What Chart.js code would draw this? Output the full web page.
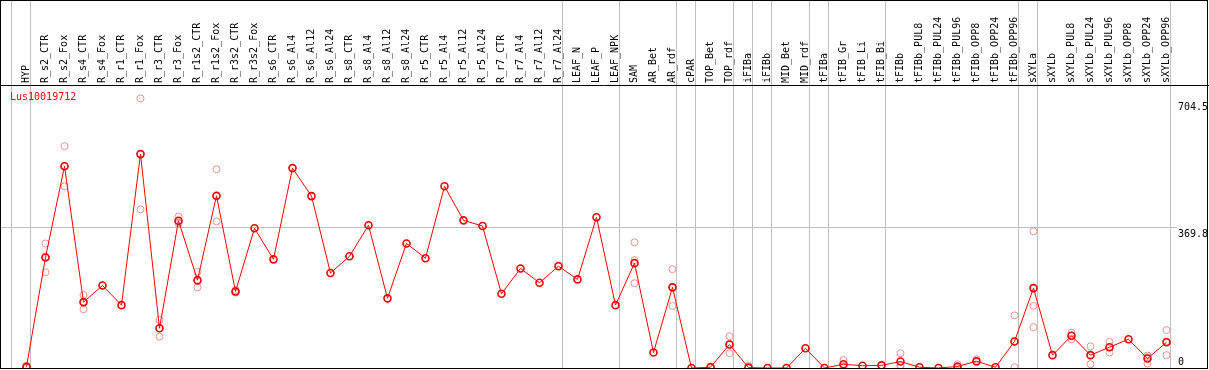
<!DOCTYPE html>
<html><head><meta charset="utf-8">
<script src="https://cdn.jsdelivr.net/npm/chart.js@4.4.0/dist/chart.umd.min.js"></script>
<style>html,body{margin:0;padding:0;background:#fff;overflow:hidden}</style>
</head><body>
<canvas id="c" width="1209" height="370"></canvas>
<script>
const categories = ['HYP','R_s2_CTR','R_s2_Fox','R_s4_CTR','R_s4_Fox','R_r1_CTR','R_r1_Fox','R_r3_CTR','R_r3_Fox','R_r1s2_CTR','R_r1s2_Fox','R_r3s2_CTR','R_r3s2_Fox','R_s6_CTR','R_s6_Al4','R_s6_Al12','R_s6_Al24','R_s8_CTR','R_s8_Al4','R_s8_Al12','R_s8_Al24','R_r5_CTR','R_r5_Al4','R_r5_Al12','R_r5_Al24','R_r7_CTR','R_r7_Al4','R_r7_Al12','R_r7_Al24','LEAF_N','LEAF_P','LEAF_NPK','SAM','AR_Bet','AR_rdf','cPAR','TOP_Bet','TOP_rdf','iFIBa','iFIBb','MID_Bet','MID_rdf','tFIBa','tFIB_Gr','tFIB_Li','tFIB_Bi','tFIBb','tFIBb_PUL8','tFIBb_PUL24','tFIBb_PUL96','tFIBb_OPP8','tFIBb_OPP24','tFIBb_OPP96','sXYLa','sXYLb','sXYLb_PUL8','sXYLb_PUL24','sXYLb_PUL96','sXYLb_OPP8','sXYLb_OPP24','sXYLb_OPP96'];
const meanValues = [3,292,533,174,218,166,565,105,389,232,455,202,369,287,528,454,251,295,377,184,329,290,480,390,375,196,263,225,269,234,398,166,277,41,213,0,2,62,1,0,0,52,0,10,6,7,17,2,0,4,18,2,70,211,34,85,34,55,76,25,68];
const rep1 = [6,329,586,193,null,null,712,127,400,254,525,206,null,null,null,null,null,null,null,null,null,null,null,null,null,null,null,null,null,null,null,null,332,null,261,null,4,84,5,null,null,null,null,21,null,null,39,null,null,10,23,null,139,361,null,93,57,69,null,33,100];
const rep2 = [1,253,480,155,null,null,419,83,382,213,387,199,null,null,null,null,null,null,null,null,null,null,null,null,null,null,null,null,null,null,null,null,285,null,164,null,0,39,0,null,null,null,null,4,null,null,5,null,null,0,16,null,2,164,null,76,10,41,null,12,34];
const rep3 = [2,294,533,174,null,null,565,105,385,229,453,201,null,null,null,null,null,null,null,null,null,null,null,null,null,null,null,null,null,null,null,null,224,null,214,null,2,63,0,null,null,null,null,5,null,null,7,null,null,2,16,null,70,108,null,85,34,55,null,29,70];
const yTicks = [0, 369.8, 704.5];
const groupEnds = [-1, 0, 28, 31, 34, 35, 37, 38, 39, 41, 42, 45, 52, 53, 60];
const geneName = 'Lus10019712';

const FONT = "'DejaVu Sans Mono', monospace";
const repPoints = [];
[rep1, rep2, rep3].forEach(r => r.forEach((v, i) => { if (v !== null) repPoints.push({x: i, y: v}); }));
const meanPoints = meanValues.map((v, i) => ({x: i, y: v}));

const framePlugin = {
  id: 'frame',
  beforeDatasetsDraw(chart) {
    const ctx = chart.ctx, xs = chart.scales.x, a = chart.chartArea;
    ctx.save();
    ctx.strokeStyle = '#c0c0c0';
    ctx.lineWidth = 1;
    groupEnds.forEach(b => {
      const px = Math.round(xs.getPixelForValue(b + 0.2)) + 0.5;
      ctx.beginPath(); ctx.moveTo(px, 0); ctx.lineTo(px, a.bottom); ctx.stroke();
    });
    ctx.restore();
  },
  afterDraw(chart) {
    const ctx = chart.ctx, a = chart.chartArea;
    ctx.save();
    ctx.strokeStyle = '#000';
    ctx.lineWidth = 1;
    ctx.strokeRect(0.5, 0.5, chart.width - 2, a.bottom);
    ctx.beginPath(); ctx.moveTo(0, a.top + 0.5); ctx.lineTo(chart.width, a.top + 0.5); ctx.stroke();
    ctx.fillStyle = '#ff0000';
    ctx.font = '10px ' + FONT;
    ctx.textBaseline = 'middle';
    ctx.fillText(geneName, a.left + 9, a.top + 12);
    ctx.restore();
  }
};

new Chart(document.getElementById('c'), {
  type: 'line',
  data: {
    datasets: [
      {
        type: 'scatter',
        data: repPoints,
        showLine: false,
        pointRadius: 3.5,
        pointBorderWidth: 1,
        pointBorderColor: '#ee9090',
        pointBackgroundColor: 'rgba(0,0,0,0)',
        order: 2
      },
      {
        data: meanPoints,
        borderColor: '#ff0000',
        borderWidth: 1,
        pointRadius: 3.5,
        pointBorderWidth: 1.6,
        pointBorderColor: '#ee0000',
        pointBackgroundColor: 'rgba(0,0,0,0)',
        tension: 0,
        order: 1
      }
    ]
  },
  options: {
    responsive: false,
    animation: false,
    devicePixelRatio: 1,
    layout: { autoPadding: false, padding: { left: 1, right: 2, top: 0, bottom: 2 } },
    plugins: { legend: { display: false }, tooltip: { enabled: false } },
    scales: {
      x: {
        type: 'linear',
        position: 'top',
        min: -1.342,
        max: 60.553,
        grid: { display: false, drawTicks: false },
        border: { display: false },
        afterBuildTicks: s => { s.ticks = categories.map((c, i) => ({ value: i })); },
        afterFit: s => { s.height = 85; s.paddingLeft = 0; s.paddingRight = 0; },
        ticks: {
          autoSkip: false,
          minRotation: 90,
          maxRotation: 90,
          padding: 2,
          labelOffset: 12,
          color: '#000',
          font: { family: FONT, size: 10 },
          callback: (v, i) => categories[i]
        }
      },
      y: {
        type: 'linear',
        position: 'right',
        min: 0,
        max: 747.5,
        grid: {
          drawTicks: false,
          color: c => (c.tick && c.tick.value === 369.8) ? '#c0c0c0' : 'rgba(0,0,0,0)'
        },
        border: { display: false },
        afterBuildTicks: s => { s.ticks = yTicks.map(v => ({ value: v })); },
        afterFit: s => { s.width = 30; s.paddingTop = 0; s.paddingBottom = 0; },
        ticks: {
          padding: 1,
          color: '#000',
          font: { family: FONT, size: 10 },
          callback: v => v === 0 ? ['0', ''] : ['', String(v)]
        }
      }
    }
  },
  plugins: [framePlugin]
});
</script>
</body></html>
